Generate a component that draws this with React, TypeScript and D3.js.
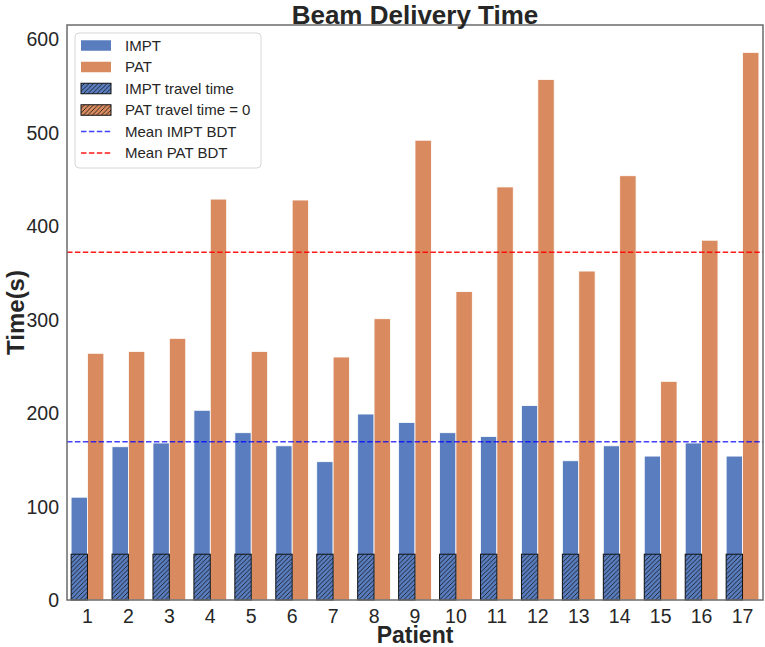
import React, { useRef, useEffect } from 'react';
import * as d3 from 'd3';

const patients = ['1', '2', '3', '4', '5', '6', '7', '8', '9', '10', '11', '12', '13', '14', '15', '16', '17'];
const imptTime = [110, 164, 168, 203, 179, 165, 148, 199, 190, 179, 175, 208, 149, 165, 154, 168, 154];
const patTime = [264, 266, 280, 429, 266, 428, 260, 301, 492, 330, 442, 557, 352, 454, 234, 385, 586];
const imptTravel = [49, 49, 49, 49, 49, 49, 49, 49, 49, 49, 49, 49, 49, 49, 49, 49, 49];
const patTravel = [0, 0, 0, 0, 0, 0, 0, 0, 0, 0, 0, 0, 0, 0, 0, 0, 0];
const yTicks = [0, 100, 200, 300, 400, 500, 600];
const methods = ['IMPT', 'PAT'];

const W = 765;
const H = 647;
const FONT = '"Liberation Sans", Arial, sans-serif';
const BLUE = '#597dbf';
const ORANGE = '#d98b5f';

const App: React.FC = () => {
  const svgRef = useRef<SVGSVGElement>(null);

  useEffect(() => {
    document.body.style.margin = '0';
    if (!svgRef.current) return;
    const svg = d3.select(svgRef.current);
    svg.selectAll('*').remove();

    const margin = { top: 25, right: 2, bottom: 47, left: 67 };
    const x = d3.scaleBand<string>()
      .domain(patients)
      .range([margin.left, W - margin.right])
      .paddingInner(0.2)
      .paddingOuter(0.1);
    const xHue = d3.scaleBand<string>().domain(methods).range([0, x.bandwidth()]);
    const yMax = d3.max(patTime)! * 1.05;
    const y = d3.scaleLinear().domain([0, yMax]).range([H - margin.bottom, margin.top]);

    // hatch pattern
    const defs = svg.append('defs');
    const pat = defs.append('pattern')
      .attr('id', 'hatch')
      .attr('patternUnits', 'userSpaceOnUse')
      .attr('width', 4.5)
      .attr('height', 4.5);
    pat.append('path')
      .attr('d', 'M-1,1 l2,-2 M0,4.5 l4.5,-4.5 M3.5,5.5 l2,-2')
      .attr('stroke', '#111')
      .attr('stroke-width', 0.8);

    const rows = patients.map((p, i) => ({
      p, impt: imptTime[i], pat: patTime[i], it: imptTravel[i], pt: patTravel[i]
    }));

    const g = svg.append('g');

    // main bars
    g.selectAll('.impt').data(rows).enter().append('rect')
      .attr('x', d => x(d.p)! + xHue('IMPT')!)
      .attr('y', d => y(d.impt))
      .attr('width', xHue.bandwidth())
      .attr('height', d => y(0) - y(d.impt))
      .attr('fill', BLUE)
      .attr('stroke', '#fff')
      .attr('stroke-width', 0.8);
    g.selectAll('.pat').data(rows).enter().append('rect')
      .attr('x', d => x(d.p)! + xHue('PAT')!)
      .attr('y', d => y(d.pat))
      .attr('width', xHue.bandwidth())
      .attr('height', d => y(0) - y(d.pat))
      .attr('fill', ORANGE)
      .attr('stroke', '#fff')
      .attr('stroke-width', 0.8);

    // travel time bars (hatched)
    const travel = g.selectAll('.it').data(rows).enter().append('g');
    travel.append('rect')
      .attr('x', d => x(d.p)! + xHue('IMPT')!)
      .attr('y', d => y(d.it))
      .attr('width', xHue.bandwidth())
      .attr('height', d => y(0) - y(d.it))
      .attr('fill', BLUE);
    travel.append('rect')
      .attr('x', d => x(d.p)! + xHue('IMPT')!)
      .attr('y', d => y(d.it))
      .attr('width', xHue.bandwidth())
      .attr('height', d => y(0) - y(d.it))
      .attr('fill', 'url(#hatch)')
      .attr('stroke', '#111')
      .attr('stroke-width', 1);
    g.selectAll('.pt').data(rows).enter().append('rect')
      .attr('x', d => x(d.p)! + xHue('PAT')!)
      .attr('y', d => y(d.pt))
      .attr('width', xHue.bandwidth())
      .attr('height', d => y(0) - y(d.pt))
      .attr('fill', 'url(#hatch)');

    // mean lines
    const meanImpt = d3.mean(imptTime)!;
    const meanPat = d3.mean(patTime)!;
    const lines = [
      { v: meanImpt, c: '#0000ff', o: 0.75 },
      { v: meanPat, c: '#ff0000', o: 0.9 }
    ];
    g.selectAll('.mean').data(lines).enter().append('line')
      .attr('x1', margin.left)
      .attr('x2', W - margin.right)
      .attr('y1', d => y(d.v))
      .attr('y2', d => y(d.v))
      .attr('stroke', d => d.c)
      .attr('stroke-opacity', d => d.o)
      .attr('stroke-width', 1.5)
      .attr('stroke-dasharray', '5.5,2.4');

    // frame
    svg.append('rect')
      .attr('x', margin.left)
      .attr('y', margin.top)
      .attr('width', W - margin.right - margin.left)
      .attr('height', H - margin.bottom - margin.top)
      .attr('fill', 'none')
      .attr('stroke', '#6b6b6b')
      .attr('stroke-width', 1.5);

    // ticks
    svg.append('g').selectAll('text').data(yTicks).enter().append('text')
      .attr('x', margin.left - 8)
      .attr('y', d => y(d))
      .attr('dy', '0.36em')
      .attr('text-anchor', 'end')
      .attr('font-family', FONT)
      .attr('font-size', 19.5)
      .attr('fill', '#262626')
      .text(d => d);
    svg.append('g').selectAll('text').data(patients).enter().append('text')
      .attr('x', d => x(d)! + x.bandwidth() / 2)
      .attr('y', H - margin.bottom + 23)
      .attr('text-anchor', 'middle')
      .attr('font-family', FONT)
      .attr('font-size', 19.5)
      .attr('fill', '#262626')
      .text(d => d);

    // labels
    const midX = (margin.left + W - margin.right) / 2;
    svg.append('text')
      .attr('x', midX)
      .attr('y', 24)
      .attr('text-anchor', 'middle')
      .attr('font-family', FONT)
      .attr('font-weight', 'bold')
      .attr('font-size', 26)
      .attr('fill', '#262626')
      .text('Beam Delivery Time');
    svg.append('text')
      .attr('x', midX)
      .attr('y', 643)
      .attr('text-anchor', 'middle')
      .attr('font-family', FONT)
      .attr('font-weight', 'bold')
      .attr('font-size', 23)
      .attr('fill', '#262626')
      .text('Patient');
    svg.append('text')
      .attr('transform', `translate(24,${(margin.top + H - margin.bottom) / 2}) rotate(-90)`)
      .attr('text-anchor', 'middle')
      .attr('font-family', FONT)
      .attr('font-weight', 'bold')
      .attr('font-size', 24)
      .attr('fill', '#262626')
      .text('Time(s)');

    // legend
    const leg = svg.append('g').attr('transform', 'translate(75,33)');
    leg.append('rect')
      .attr('width', 186)
      .attr('height', 135)
      .attr('rx', 4)
      .attr('fill', '#fff')
      .attr('fill-opacity', 0.8)
      .attr('stroke', '#d6d6d6');
    const items = [
      { label: 'IMPT', kind: 'patch', c: BLUE },
      { label: 'PAT', kind: 'patch', c: ORANGE },
      { label: 'IMPT travel time', kind: 'hatch', c: BLUE },
      { label: 'PAT travel time = 0', kind: 'hatch', c: ORANGE },
      { label: 'Mean IMPT BDT', kind: 'line', c: '#0000ff', o: 0.75 },
      { label: 'Mean PAT BDT', kind: 'line', c: '#ff0000', o: 0.9 }
    ];
    const li = leg.selectAll('.li').data(items).enter().append('g')
      .attr('transform', (d, i) => `translate(0,${12.5 + i * 21.5})`);
    li.filter(d => d.kind !== 'line').append('rect')
      .attr('x', 6).attr('y', -5.25).attr('width', 30).attr('height', 10.5)
      .attr('fill', d => d.c);
    li.filter(d => d.kind === 'hatch').append('rect')
      .attr('x', 6).attr('y', -5.25).attr('width', 30).attr('height', 10.5)
      .attr('fill', 'url(#hatch)')
      .attr('stroke', '#111')
      .attr('stroke-width', 1);
    li.filter(d => d.kind === 'line').append('line')
      .attr('x1', 6).attr('x2', 36)
      .attr('stroke', d => d.c)
      .attr('stroke-opacity', d => d.o ?? 1)
      .attr('stroke-width', 1.5)
      .attr('stroke-dasharray', '5.5,2.4');
    li.append('text')
      .attr('x', 50)
      .attr('dy', '0.36em')
      .attr('font-family', FONT)
      .attr('font-size', 15)
      .attr('fill', '#262626')
      .text(d => d.label);
  }, []);

  return <svg ref={svgRef} width={W} height={H} style={{ display: 'block' }} />;
};

export default App;
